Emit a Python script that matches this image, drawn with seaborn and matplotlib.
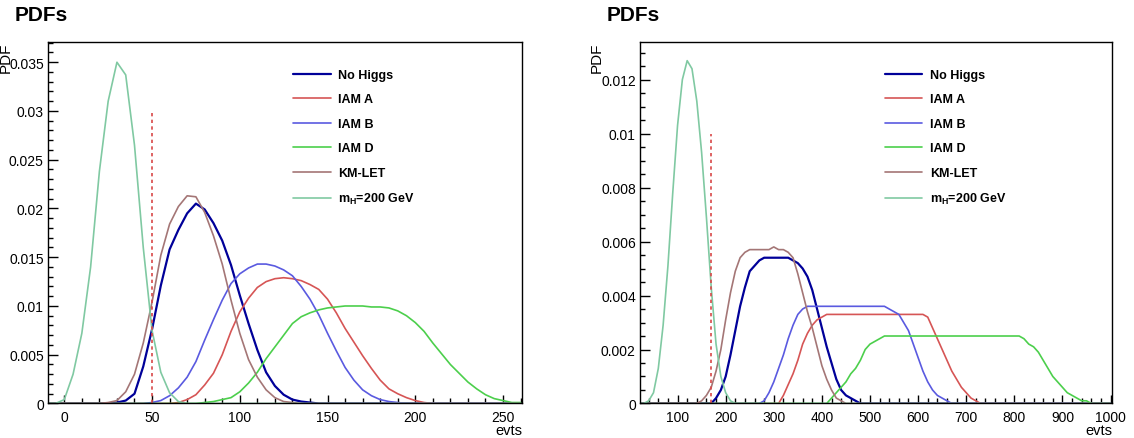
import numpy as np
import seaborn as sns
import matplotlib.pyplot as plt
from matplotlib.ticker import MultipleLocator, FuncFormatter

# x grid (evts) of each panel
x_left = np.arange(-10, 265, 5)
x_right = np.arange(10, 1010, 10)

labels = ["No Higgs", "IAM A", "IAM B", "IAM D", "KM-LET", r"m$_\mathbf{H}$=200 GeV"]
colors = ["#000099", "#d65555", "#5a5ae0", "#4ccf4c", "#a47676", "#80c9a2"]
widths = [1.6, 1.2, 1.2, 1.2, 1.2, 1.2]

# left panel PDFs, x = -10 ... 260 step 5
nohiggs_left = [0, 0, 0, 0, 0, 0, 0, 0, 0.0001, 0.0003, 0.0010,
                0.0038, 0.0076, 0.0121, 0.0158, 0.0178, 0.0195, 0.0205, 0.0199, 0.0185, 0.0167, 0.0142,
                0.0111, 0.0082, 0.0055, 0.0032, 0.0018, 0.0009, 0.0004, 0.0002, 0.0001, 0, 0,
                0, 0, 0, 0, 0, 0, 0, 0, 0, 0, 0,
                0, 0, 0, 0, 0, 0, 0, 0, 0, 0, 0]
iama_left = [0, 0, 0, 0, 0, 0, 0, 0, 0, 0, 0,
             0, 0, 0, 0, 0.0001, 0.0004, 0.0009, 0.0019, 0.0031, 0.0050, 0.0074,
             0.0094, 0.0108, 0.0119, 0.0125, 0.0128, 0.0129, 0.0128, 0.0126, 0.0122, 0.0117, 0.0107,
             0.0093, 0.0077, 0.0063, 0.0049, 0.0036, 0.0024, 0.0015, 0.0010, 0.0006, 0.0003, 0.0001,
             0, 0, 0, 0, 0, 0, 0, 0, 0, 0, 0]
iamb_left = [0, 0, 0, 0, 0, 0, 0, 0, 0, 0, 0,
             0, 0.0001, 0.0003, 0.0008, 0.0016, 0.0027, 0.0043, 0.0065, 0.0086, 0.0106, 0.0123,
             0.0133, 0.0139, 0.0143, 0.0143, 0.0141, 0.0137, 0.0131, 0.0120, 0.0107, 0.0091, 0.0072,
             0.0054, 0.0037, 0.0024, 0.0014, 0.0008, 0.0004, 0.0002, 0.0001, 0, 0, 0,
             0, 0, 0, 0, 0, 0, 0, 0, 0, 0, 0]
iamd_left = [0, 0, 0, 0, 0, 0, 0, 0, 0, 0, 0,
             0, 0, 0, 0, 0, 0, 0, 0.0001, 0.0002, 0.0004, 0.0006,
             0.0012, 0.0021, 0.0032, 0.0046, 0.0058, 0.0070, 0.0082, 0.0089, 0.0093, 0.0096, 0.0098,
             0.0099, 0.0100, 0.0100, 0.0100, 0.0099, 0.0099, 0.0098, 0.0095, 0.0090, 0.0083, 0.0074,
             0.0062, 0.0051, 0.0040, 0.0031, 0.0022, 0.0015, 0.0009, 0.0005, 0.0003, 0.0001, 0.0001]
km_left = [0, 0, 0, 0, 0, 0, 0, 0.0001, 0.0003, 0.0012, 0.0030,
           0.0062, 0.0104, 0.0152, 0.0184, 0.0202, 0.0213, 0.0212, 0.0196, 0.0172, 0.0143, 0.0106,
           0.0072, 0.0045, 0.0027, 0.0014, 0.0006, 0.0002, 0.0001, 0, 0, 0, 0,
           0, 0, 0, 0, 0, 0, 0, 0, 0, 0, 0,
           0, 0, 0, 0, 0, 0, 0, 0, 0, 0, 0]
mh_left = [0, 0, 0.0004, 0.0030, 0.0072, 0.0140, 0.0238, 0.0310, 0.0350, 0.0337, 0.0265,
           0.0160, 0.0075, 0.0032, 0.0011, 0.0002, 0, 0, 0, 0, 0, 0,
           0, 0, 0, 0, 0, 0, 0, 0, 0, 0, 0,
           0, 0, 0, 0, 0, 0, 0, 0, 0, 0, 0,
           0, 0, 0, 0, 0, 0, 0, 0, 0, 0, 0]

# right panel PDFs, x = 10 ... 1000 step 10
nohiggs_right = [0, 0, 0, 0, 0, 0, 0, 0, 0, 0,
                 0, 0, 0, 0, 0, 0, 0, 0.0002, 0.0005, 0.0010,
                 0.0018, 0.0027, 0.0036, 0.0043, 0.0049, 0.0051, 0.0053, 0.0054, 0.0054, 0.0054,
                 0.0054, 0.0054, 0.0054, 0.0053, 0.0052, 0.0050, 0.0047, 0.0042, 0.0035, 0.0028,
                 0.0021, 0.0015, 0.0009, 0.0005, 0.0003, 0.0002, 0.0001, 0, 0, 0,
                 0, 0, 0, 0, 0, 0, 0, 0, 0, 0,
                 0, 0, 0, 0, 0, 0, 0, 0, 0, 0,
                 0, 0, 0, 0, 0, 0, 0, 0, 0, 0,
                 0, 0, 0, 0, 0, 0, 0, 0, 0, 0,
                 0, 0, 0, 0, 0, 0, 0, 0, 0, 0]
iama_right = [0, 0, 0, 0, 0, 0, 0, 0, 0, 0,
              0, 0, 0, 0, 0, 0, 0, 0, 0, 0,
              0, 0, 0, 0, 0, 0, 0, 0, 0, 0,
              0, 0.0003, 0.0007, 0.0011, 0.0016, 0.0022, 0.0026, 0.0029, 0.0031, 0.0032,
              0.0033, 0.0033, 0.0033, 0.0033, 0.0033, 0.0033, 0.0033, 0.0033, 0.0033, 0.0033,
              0.0033, 0.0033, 0.0033, 0.0033, 0.0033, 0.0033, 0.0033, 0.0033, 0.0033, 0.0033,
              0.0033, 0.0032, 0.0028, 0.0024, 0.0020, 0.0016, 0.0012, 0.0009, 0.0006, 0.0004,
              0.0002, 0.0001, 0, 0, 0, 0, 0, 0, 0, 0,
              0, 0, 0, 0, 0, 0, 0, 0, 0, 0,
              0, 0, 0, 0, 0, 0, 0, 0, 0, 0]
iamb_right = [0, 0, 0, 0, 0, 0, 0, 0, 0, 0,
              0, 0, 0, 0, 0, 0, 0, 0, 0, 0,
              0, 0, 0, 0, 0, 0, 0, 0.0001, 0.0004, 0.0008,
              0.0013, 0.0018, 0.0024, 0.0029, 0.0033, 0.0035, 0.0036, 0.0036, 0.0036, 0.0036,
              0.0036, 0.0036, 0.0036, 0.0036, 0.0036, 0.0036, 0.0036, 0.0036, 0.0036, 0.0036,
              0.0036, 0.0036, 0.0036, 0.0035, 0.0034, 0.0033, 0.0030, 0.0027, 0.0022, 0.0017,
              0.0012, 0.0008, 0.0005, 0.0003, 0.0002, 0.0001, 0, 0, 0, 0,
              0, 0, 0, 0, 0, 0, 0, 0, 0, 0,
              0, 0, 0, 0, 0, 0, 0, 0, 0, 0,
              0, 0, 0, 0, 0, 0, 0, 0, 0, 0]
iamd_right = [0, 0, 0, 0, 0, 0, 0, 0, 0, 0,
              0, 0, 0, 0, 0, 0, 0, 0, 0, 0,
              0, 0, 0, 0, 0, 0, 0, 0, 0, 0,
              0, 0, 0, 0, 0, 0, 0, 0, 0, 0,
              0, 0.0002, 0.0004, 0.0006, 0.0008, 0.0011, 0.0013, 0.0016, 0.0020, 0.0022,
              0.0023, 0.0024, 0.0025, 0.0025, 0.0025, 0.0025, 0.0025, 0.0025, 0.0025, 0.0025,
              0.0025, 0.0025, 0.0025, 0.0025, 0.0025, 0.0025, 0.0025, 0.0025, 0.0025, 0.0025,
              0.0025, 0.0025, 0.0025, 0.0025, 0.0025, 0.0025, 0.0025, 0.0025, 0.0025, 0.0025,
              0.0025, 0.0024, 0.0022, 0.0021, 0.0019, 0.0016, 0.0013, 0.0010, 0.0008, 0.0006,
              0.0004, 0.0003, 0.0002, 0.0001, 0.0001, 0, 0, 0, 0, 0]
km_right = [0, 0, 0, 0, 0, 0, 0, 0, 0, 0,
            0, 0, 0, 0, 0.0001, 0.0003, 0.0006, 0.0012, 0.0020, 0.0031,
            0.0041, 0.0049, 0.0054, 0.0056, 0.0057, 0.0057, 0.0057, 0.0057, 0.0057, 0.0058,
            0.0057, 0.0057, 0.0056, 0.0054, 0.0048, 0.0041, 0.0034, 0.0028, 0.0021, 0.0014,
            0.0009, 0.0005, 0.0002, 0.0001, 0, 0, 0, 0, 0, 0,
            0, 0, 0, 0, 0, 0, 0, 0, 0, 0,
            0, 0, 0, 0, 0, 0, 0, 0, 0, 0,
            0, 0, 0, 0, 0, 0, 0, 0, 0, 0,
            0, 0, 0, 0, 0, 0, 0, 0, 0, 0,
            0, 0, 0, 0, 0, 0, 0, 0, 0, 0]
mh_right = [0, 0, 0, 0.0001, 0.0004, 0.0013, 0.0029, 0.0051, 0.0078, 0.0103,
            0.0120, 0.0127, 0.0124, 0.0112, 0.0093, 0.0069, 0.0043, 0.0022, 0.0010, 0.0004,
            0.0001, 0, 0, 0, 0, 0, 0, 0, 0, 0,
            0, 0, 0, 0, 0, 0, 0, 0, 0, 0,
            0, 0, 0, 0, 0, 0, 0, 0, 0, 0,
            0, 0, 0, 0, 0, 0, 0, 0, 0, 0,
            0, 0, 0, 0, 0, 0, 0, 0, 0, 0,
            0, 0, 0, 0, 0, 0, 0, 0, 0, 0,
            0, 0, 0, 0, 0, 0, 0, 0, 0, 0,
            0, 0, 0, 0, 0, 0, 0, 0, 0, 0]

# dashed cut lines (position, height)
cut_left = (50, 0.030)
cut_right = (170, 0.010)

sns.set_style("white")
plt.rcParams["font.family"] = ["Liberation Sans", "DejaVu Sans"]
plt.rcParams["mathtext.fontset"] = "custom"
plt.rcParams["mathtext.rm"] = "Liberation Sans:bold"
plt.rcParams["mathtext.bf"] = "Liberation Sans:bold"
plt.rcParams["text.color"] = "black"
plt.rcParams["axes.labelcolor"] = "black"

fig = plt.figure(figsize=(11.34, 4.39), dpi=100)
ax1 = fig.add_axes([0.0423, 0.0786, 0.418, 0.824])
ax2 = fig.add_axes([0.5644, 0.0786, 0.4162, 0.824])

panels = [
    (ax1, x_left, [nohiggs_left, iama_left, iamb_left, iamd_left, km_left, mh_left], cut_left,
     (-9.3, 260.8), (0, 0.0371), 50, 10, 0.005, 0.001, -0.074, 0.517),
    (ax2, x_right, [nohiggs_right, iama_right, iamb_right, iamd_right, km_right, mh_right], cut_right,
     (22, 1003), (0, 0.0134), 100, 20, 0.002, 0.0005, -0.076, 0.519),
]

for ax, xs, series, cut, xlim, ylim, xmaj, xmin, ymaj, ymin, ylab_x, leg_x in panels:
    for vals, lab, col, lw in zip(series, labels, colors, widths):
        sns.lineplot(x=xs, y=vals, color=col, linewidth=lw, label=lab, ax=ax)
    ax.vlines(cut[0], 0, cut[1], colors="#d84848", linestyles=(0, (2, 2)), linewidth=1.2)
    ax.set_xlim(*xlim)
    ax.set_ylim(*ylim)
    ax.xaxis.set_major_locator(MultipleLocator(xmaj))
    ax.xaxis.set_minor_locator(MultipleLocator(xmin))
    ax.yaxis.set_major_locator(MultipleLocator(ymaj))
    ax.yaxis.set_minor_locator(MultipleLocator(ymin))
    ax.yaxis.set_major_formatter(FuncFormatter(lambda v, p: "%g" % round(v, 6)))
    ax.tick_params(which="both", direction="in", labelsize=10, width=1, colors="black",
                   bottom=True, left=True, top=False, right=False)
    ax.tick_params(axis="y", which="major", length=7, pad=3)
    ax.tick_params(axis="y", which="minor", length=3.6)
    ax.tick_params(axis="x", which="major", length=6, pad=5)
    ax.tick_params(axis="x", which="minor", length=3.5)
    for sp in ax.spines.values():
        sp.set_color("black")
        sp.set_linewidth(1)
    ax.set_ylabel("PDF", fontsize=11, loc="top")
    ax.yaxis.set_label_coords(ylab_x, 1.0)
    ax.set_xlabel("evts", fontsize=10.5, loc="right")
    ax.xaxis.set_label_coords(1.0, -0.055)
    ax.legend(loc="upper left", bbox_to_anchor=(leg_x, 0.925), frameon=False,
              prop={"weight": "bold", "size": 9}, handlelength=3.0, labelspacing=1.0,
              handletextpad=0.6, borderpad=0, borderaxespad=0, labelcolor="black")

fig.text(15 / 1134, 1 - 6 / 439, "PDFs", ha="left", va="top", fontsize=15, weight="bold")
fig.text(607 / 1134, 1 - 6 / 439, "PDFs", ha="left", va="top", fontsize=15, weight="bold")

fig.savefig("out.png", dpi=100)
